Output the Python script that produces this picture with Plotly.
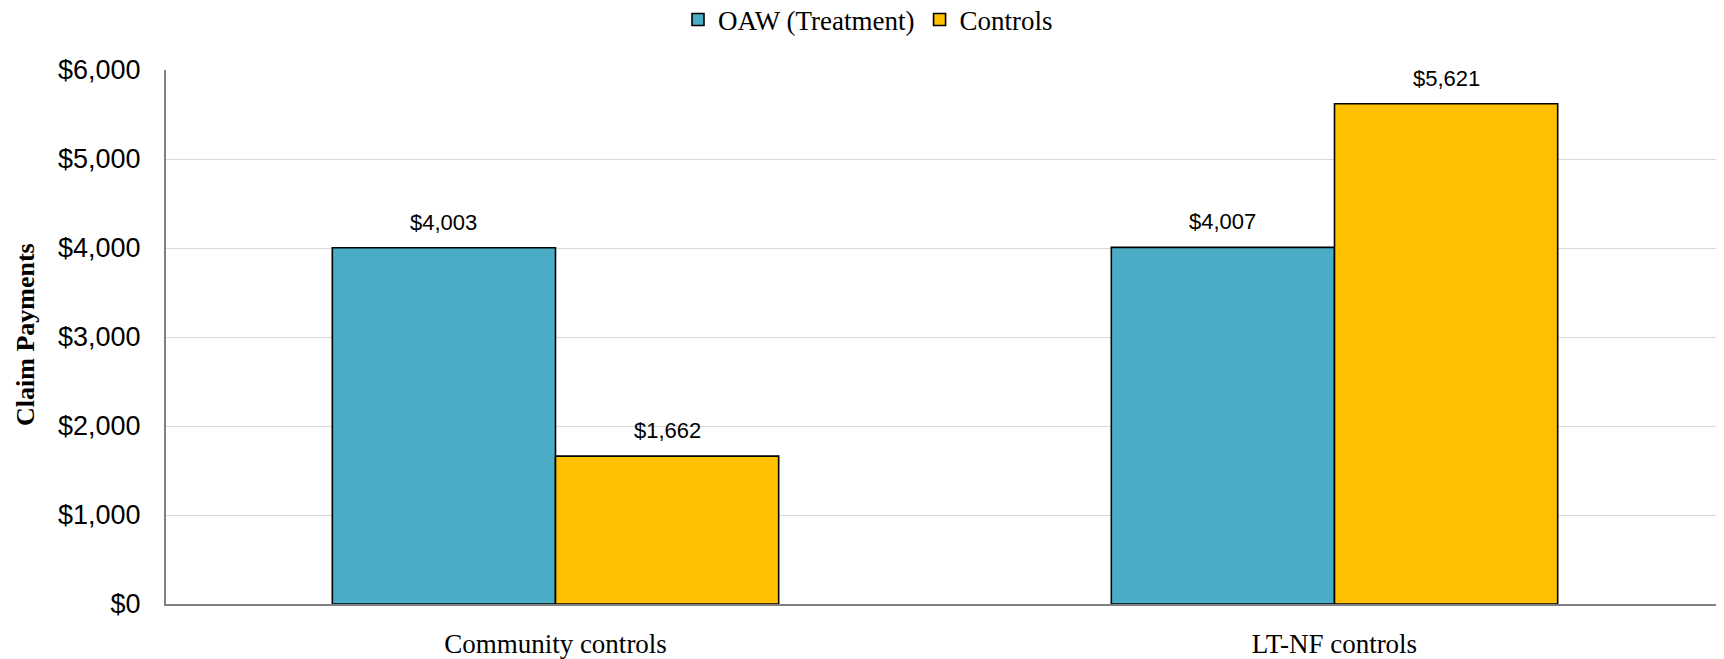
import plotly.graph_objects as go

categories = ["Community controls", "LT-NF controls"]
series_names = ["OAW (Treatment)", "Controls"]
oaw_values = [4003, 4007]
control_values = [1662, 5621]
y_tick_vals = [0, 1000, 2000, 3000, 4000, 5000, 6000]
y_tick_text = ["$0", "$1,000", "$2,000", "$3,000", "$4,000", "$5,000", "$6,000"]

colors = ["#4BACC6", "#FFC000"]
BARGAP = 0.427

fig = go.Figure()
for name, vals, col in zip(series_names, [oaw_values, control_values], colors):
    fig.add_trace(go.Bar(
        x=categories, y=vals, name=name,
        marker=dict(color=col, line=dict(color="#000000", width=1.6)),
    ))

# data labels
half = (1 - BARGAP) / 4
for k, vals in enumerate([oaw_values, control_values]):
    off = -half if k == 0 else half
    for i, v in enumerate(vals):
        fig.add_annotation(
            x=i + off, y=v, xref="x", yref="y",
            text=f"${v:,}", showarrow=False, yanchor="bottom", yshift=11,
            font=dict(family="Liberation Sans, Arial", size=22, color="#000000"),
        )

# page has an 8px body margin; size the figure to fit the window
BODY = 8
W, H = 1724 - BODY, 659 - BODY
ML, MR, MT, MB = 166 - BODY, 0, 70 - BODY, 55
pw = W - ML - MR
ph = H - MT - MB

fig.add_annotation(
    x=-(ML - (25 - BODY)) / pw, y=1 - (335 - BODY - MT) / ph, xref="paper", yref="paper",
    text="<b>Claim Payments</b>", textangle=-90, showarrow=False,
    xanchor="center", yanchor="middle",
    font=dict(family="Liberation Serif, Times New Roman", size=26, color="#000000"),
)

fig.update_layout(
    width=W, height=H,
    margin=dict(l=ML, r=MR, t=MT, b=MB, pad=0, autoexpand=False),
    plot_bgcolor="#FFFFFF", paper_bgcolor="#FFFFFF",
    barmode="group", bargap=BARGAP, bargroupgap=0,
    showlegend=True,
    legend=dict(
        orientation="h", x=(868 - BODY - ML) / pw, xanchor="center",
        y=1 + (MT - (20 - BODY)) / ph, yanchor="middle",
        font=dict(family="Liberation Serif, Times New Roman", size=27, color="#000000"),
        itemwidth=30, traceorder="normal",
    ),
    xaxis=dict(
        type="category", showgrid=False, showline=True, linecolor="#808080", linewidth=2,
        ticks="", tickfont=dict(family="Liberation Serif, Times New Roman", size=27, color="#000000"),
        ticklabelstandoff=15, range=[-0.5, 1.5], automargin=False,
    ),
    yaxis=dict(
        range=[0, 6000], tickvals=y_tick_vals, ticktext=y_tick_text,
        showgrid=True, gridcolor="#D9D9D9", gridwidth=1,
        showline=True, linecolor="#808080", linewidth=2, zeroline=False,
        ticks="", tickfont=dict(family="Liberation Sans, Arial", size=27, color="#000000"),
        ticklabelstandoff=18, automargin=False,
    ),
)

fig.write_html("out.html")
